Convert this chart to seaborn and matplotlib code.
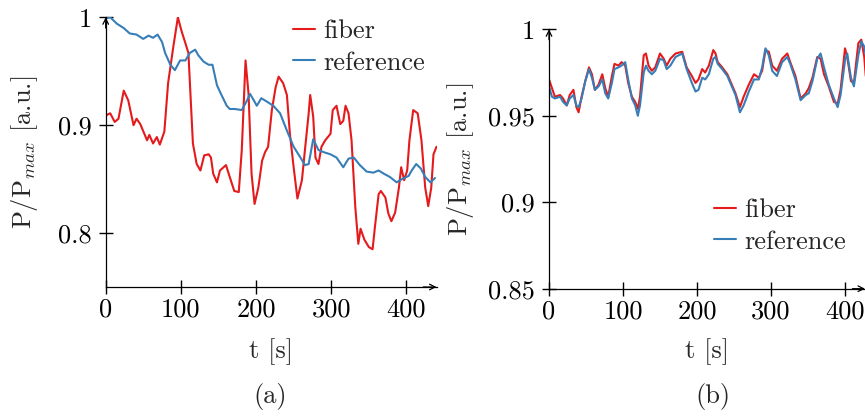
import numpy as np
import pandas as pd
import matplotlib
matplotlib.use("Agg")
import matplotlib.pyplot as plt
import seaborn as sns

# ---- panel (a): power ratio over time, drifting case ----
t_fiber_a = [0, 6, 12, 17, 24, 30, 37, 41, 46, 55, 58, 63, 68, 72, 78, 83, 90, 96, 101, 106,
             110, 116, 121, 126, 131, 137, 140, 143, 148, 152, 160, 165, 171, 177, 181, 186, 190, 194, 198, 203,
             208, 212, 216, 221, 226, 230, 236, 241, 245, 250, 255, 261, 265, 270, 272, 276, 279, 283, 287, 292,
             299, 302, 307, 312, 316, 319, 323, 327, 332, 336, 339, 344, 350, 355, 358, 363, 366, 372, 376, 380,
             385, 390, 393, 397, 401, 404, 409, 415, 420, 425, 429, 433, 436, 440]
p_fiber_a = [.909, .911, .903, .906, .932, .923, .900, .906, .901, .886, .891, .883, .889, .882, .894, .939, .973, 1.0, .987, .976,
             .967, .883, .864, .858, .872, .873, .870, .855, .847, .858, .863, .852, .839, .838, .877, .960, .929, .855, .827, .842,
             .867, .875, .880, .914, .935, .945, .939, .928, .892, .861, .832, .849, .877, .911, .928, .908, .870, .864, .880, .886,
             .892, .914, .918, .901, .904, .918, .911, .886, .824, .790, .804, .794, .787, .785, .805, .836, .839, .833, .818, .811,
             .819, .842, .861, .849, .858, .886, .914, .911, .886, .842, .825, .842, .873, .880]
t_ref_a = [0, 6, 15, 24, 32, 41, 50, 57, 63, 69, 75, 79, 86, 92, 99, 106, 112, 119, 123, 130,
           137, 142, 148, 154, 161, 165, 172, 181, 188, 192, 197, 201, 207, 214, 223, 232, 241, 250, 259, 265,
           270, 276, 283, 290, 299, 307, 316, 323, 330, 338, 347, 356, 363, 370, 378, 387, 394, 403, 407, 413,
           419, 425, 432, 438]
p_ref_a = [.999, 1.0, .994, .990, .985, .984, .980, .983, .981, .984, .977, .967, .956, .951, .960, .960, .967, .970, .965, .959,
           .956, .956, .937, .928, .918, .915, .915, .914, .923, .929, .923, .918, .925, .922, .918, .911, .895, .880, .870, .863,
           .864, .887, .877, .875, .873, .870, .861, .869, .870, .863, .857, .856, .858, .855, .852, .847, .850, .853, .858, .864,
           .860, .852, .847, .851]

# ---- panel (b): power ratio over time, stable case ----
t_b = [0, 4, 8, 15, 19, 24, 28, 33, 37, 40, 44, 49, 54, 58, 62, 67, 72, 76, 80, 85,
       88.5, 94, 98, 103, 107, 112, 116.5, 120, 123, 128, 131, 134.5, 139, 143.6, 150, 155, 159, 164, 171, 180,
       186, 193, 198, 202, 207, 211, 216, 222, 225, 228, 234, 241, 247, 252, 258, 263, 270, 277, 283.5, 288,
       292.5, 297, 301.6, 308, 315, 322, 326, 333, 340, 347, 351, 356, 362.5, 367, 371.6, 378, 385, 390, 394, 400,
       403, 408, 412, 418, 422, 426, 428]
p_fiber_b = [.971, .966, .961, .962, .960, .956, .962, .965, .955, .952, .961, .970, .978, .974, .965, .968, .974, .966, .961, .973,
             .980, .979, .981, .979, .969, .961, .958, .954, .961, .985, .986, .979, .976, .978, .986, .983, .979, .983, .986, .987,
             .978, .973, .969, .971, .977, .975, .979, .988, .986, .981, .978, .974, .968, .963, .955, .961, .968, .974, .972, .976,
             .988, .987, .979, .976, .983, .986, .981, .973, .960, .963, .966, .972, .984, .983, .974, .967, .958, .957, .965, .989,
             .984, .970, .969, .992, .994, .984, .973]
p_ref_b = [.967, .961, .960, .961, .958, .956, .960, .962, .956, .955, .960, .970, .977, .972, .965, .967, .971, .963, .960, .969,
           .977, .978, .979, .981, .971, .960, .956, .950, .956, .975, .979, .976, .974, .976, .983, .982, .977, .979, .984, .986,
           .977, .969, .964, .965, .972, .971, .974, .983, .984, .980, .977, .973, .967, .962, .952, .956, .964, .971, .971, .978,
           .989, .985, .976, .973, .981, .984, .980, .971, .959, .962, .963, .970, .983, .986, .978, .968, .960, .955, .962, .982,
           .986, .972, .967, .985, .993, .990, .985]

series_names = ["fiber", "reference"]
series_colors = ["#e41a1c", "#377eb8"]

yticks_a = [0.8, 0.9, 1.0]
ylabels_a = ["0.8", "0.9", "1"]
yticks_b = [0.85, 0.9, 0.95, 1.0]
ylabels_b = ["0.85", "0.9", "0.95", "1"]
xticks = [0, 100, 200, 300, 400]
xlabels = ["0", "100", "200", "300", "400"]


def long_frame(t1, p1, t2, p2):
    return pd.concat([
        pd.DataFrame({"t": t1, "p": p1, "series": series_names[0]}),
        pd.DataFrame({"t": t2, "p": p2, "series": series_names[1]}),
    ], ignore_index=True)


df_a = long_frame(t_fiber_a, p_fiber_a, t_ref_a, p_ref_a)
df_b = long_frame(t_b, p_fiber_b, t_b, p_ref_b)

sns.set_theme(style="ticks")
plt.rcParams.update({
    "font.family": "cmr10",
    "mathtext.fontset": "cm",
    "axes.formatter.use_mathtext": True,
    "font.size": 19,
    "axes.unicode_minus": False,
})

W, H = 865, 416
fig = plt.figure(figsize=(W / 100, H / 100), dpi=100)


def px_axes(x0, x1, ytop, ybot):
    return fig.add_axes([x0 / W, (H - ybot) / H, (x1 - x0) / W, (ybot - ytop) / H])


ax_a = px_axes(105.7, 436.5, 17.3, 287.0)
ax_b = px_axes(549.0, 865.0, 29.3, 288.7)

palette = dict(zip(series_names, series_colors))


def draw(ax, df, xlim, ylim, yt, yl, ylab_x, leg_xy, sub_x, sub):
    sns.lineplot(data=df, x="t", y="p", hue="series", hue_order=series_names,
                 palette=palette, estimator=None, sort=False, linewidth=1.5, ax=ax)
    ax.set_xlim(*xlim)
    ax.set_ylim(*ylim)
    ax.set_xticks(xticks, xlabels)
    ax.set_yticks(yt, yl)
    for s in ("top", "right"):
        ax.spines[s].set_visible(False)
    for s in ("left", "bottom"):
        ax.spines[s].set_linewidth(0.9)
        ax.spines[s].set_color("black")
    ax.tick_params(direction="inout", length=10, width=1.0, colors="black",
                   labelsize=19, pad=3)
    ax.tick_params(axis="y", pad=5)
    # arrow heads at the ends of both axis lines
    ax.annotate("", xy=(1.0, 0.0), xytext=(0.96, 0.0), xycoords="axes fraction",
                arrowprops=dict(arrowstyle="->", lw=0.9, color="black",
                                shrinkA=0, shrinkB=0, mutation_scale=10),
                annotation_clip=False)
    ax.annotate("", xy=(0.0, 1.0), xytext=(0.0, 0.96), xycoords="axes fraction",
                arrowprops=dict(arrowstyle="->", lw=0.9, color="black",
                                shrinkA=0, shrinkB=0, mutation_scale=10),
                annotation_clip=False)
    ax.set_xlabel("t [s]", fontsize=19)
    ax.set_ylabel(r"P/P$_{max}$ [a.u.]", fontsize=19)
    ax.xaxis.label.set_va("center")
    ax.yaxis.label.set_va("center")
    bb = ax.get_position()
    ax_h_px = bb.height * H
    ax_w_px = bb.width * W
    ax.xaxis.set_label_coords(0.5, ((H - 352) - bb.y0 * H) / ax_h_px)
    ax.yaxis.set_label_coords((ylab_x - bb.x0 * W) / ax_w_px, 0.5)
    sns.move_legend(ax, loc="center left",
                    bbox_to_anchor=(leg_xy[0] / W, 1 - leg_xy[1] / H),
                    bbox_transform=fig.transFigure, frameon=False, title=None,
                    fontsize=19, borderpad=0, borderaxespad=0,
                    handlelength=0.85, handletextpad=0.3, labelspacing=0.3)
    for line in ax.get_legend().get_lines():
        line.set_linewidth(1.5)
    fig.text(sub_x / W, 1 - 397 / H, sub, ha="center", va="center", fontsize=19)


draw(ax_a, df_a, (0, 440), (0.75, 1.0), yticks_a, ylabels_a, 25, (293, 47), 270, "(a)")
draw(ax_b, df_b, (0, 427), (0.85, 1.0), yticks_b, ylabels_b, 460, (714, 226), 713, "(b)")

fig.savefig("out.png", dpi=100)
